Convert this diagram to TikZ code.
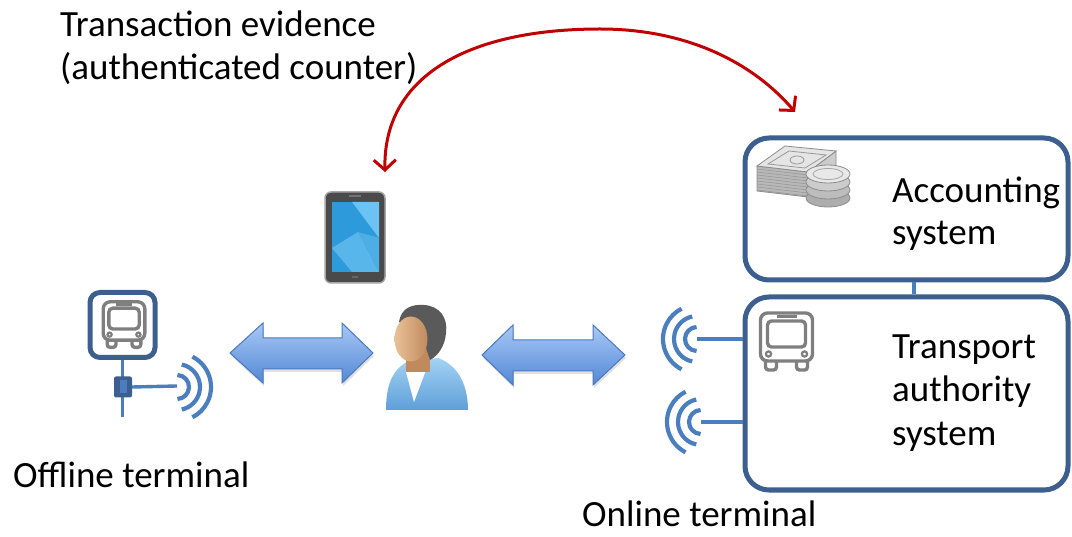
\documentclass[tikz,border=0pt]{standalone}
\usepackage{fontspec}
\setmainfont{Carlito}
\usetikzlibrary{arrows.meta,shapes.geometric}

\definecolor{frameblue}{HTML}{3C5F8F}
\definecolor{lineblue}{HTML}{4A7EBF}
\definecolor{busgray}{HTML}{7F7F7F}
\definecolor{arcred}{HTML}{C00000}
\definecolor{arrowtop}{HTML}{A9C8F5}
\definecolor{arrowbot}{HTML}{5289D6}
\definecolor{arrowedge}{HTML}{4A78C0}
\definecolor{skinlight}{HTML}{EBC198}
\definecolor{skindark}{HTML}{C08A5E}
\definecolor{hairgray}{HTML}{5A5A5A}
\definecolor{shirttop}{HTML}{A3D2F4}
\definecolor{shirtbot}{HTML}{5E9FD8}
\definecolor{screenblue}{HTML}{2C9ADB}
\definecolor{screenlight}{HTML}{6CC2F0}
\definecolor{phonebody}{HTML}{4A4A4A}

\tikzset{
  label/.style={anchor=base west, inner sep=0pt, font=\fontsize{37}{44}\selectfont},
  sysbox/.style={draw=frameblue, line width=5pt, rounded corners=24pt, inner sep=0pt},
  feed/.style={lineblue, line width=3.4pt},
  radio/.style={lineblue, line width=4.2pt},
  dblarrow/.style={draw=arrowedge, line width=1pt, top color=arrowtop, bottom color=arrowbot},
  evidence/.style={arcred, line width=3pt,
    {Straight Barb[length=10pt,width=22pt,line width=3pt]}-{Straight Barb[length=10pt,width=22pt,line width=3pt]}},
  % front view of a bus, drawn as an outline
  bus/.pic={
    \begin{scope}[busgray, line width=3.4pt]
      \draw[rounded corners=7pt] (-26,-29) rectangle (26,19);
      \draw[rounded corners=4pt] (-19,-21) rectangle (19,5);
      \draw[line width=2.6pt] (-10,-25.5) -- (10,-25.5);
      \draw[line width=2.2pt] (-18,12) circle[radius=2.6];
      \draw[line width=2.2pt] (18,12) circle[radius=2.6];
      \draw[rounded corners=3pt] (-21,19) -- (-21,28) -- (-10,28) -- (-10,19);
      \draw[rounded corners=3pt] (10,19) -- (10,28) -- (21,28) -- (21,19);
    \end{scope}
  },
  % radio waves opening to the right (radius / half opening angle)
  wavesright/.pic={
    \foreach \r/\a in {12/88,23/78,34/63}
      \draw[radio] (-\a:\r) arc[start angle=-\a, end angle=\a, radius=\r];
  },
  % radio waves opening to the left
  wavesleft/.pic={
    \foreach \r/\a in {12/88,23/78,34/63}
      \draw[radio] (180-\a:\r) arc[start angle=180-\a, end angle=180+\a, radius=\r];
  },
}

\begin{document}
\begin{tikzpicture}[x=1pt, y=-1pt]
\useasboundingbox (0,0) rectangle (1072,537);

% ---------- labels ----------
\node[label] (t1) at (60,37) {Transaction evidence};
\node[label] (t2) at (60,80) {(authenticated counter)};
\node[label] (offtxt) at (13,487) {Offline terminal};
\node[label] (ontxt) at (582,526) {Online terminal};

% ---------- back-end systems ----------
\node[sysbox, minimum width=323pt, minimum height=142pt] (acc) at (906.5,209) {};
\node[sysbox, minimum width=323pt, minimum height=193pt] (tas) at (906.5,393.5) {};
\coordinate (link) at (914,0);
\draw[feed] (acc.south -| link) -- (tas.north -| link);

\node[label] (acc1) at (892,203) {Accounting};
\node[label] (acc2) at (892,245) {system};
\node[label] (tas1) at (892,359) {Transport};
\node[label] (tas2) at (892,402) {authority};
\node[label] (tas3) at (892,446) {system};

\pic at (786.5,342) {bus};

% money: stack of notes and coins
\begin{scope}[line width=0.8pt, draw=black!45]
  \filldraw[fill=black!28] (757,166) -- (808,172) -- (808,197) -- (757,191) -- cycle;
  \filldraw[fill=black!20] (808,172) -- (836,151) -- (836,175) -- (808,197) -- cycle;
  \foreach \k in {0,3,...,21}
    \draw[black!42, line width=0.5pt] (757,169+\k) -- (808,175+\k);
  \filldraw[fill=black!10] (757,166) -- (785,146) -- (836,151) -- (808,172) -- cycle;
  \draw[black!40] (768,164) -- (789,151) -- (826,155) -- (805,168) -- cycle;
  \draw[black!40] (797,160) ellipse[x radius=7, y radius=4];
  \foreach \y/\s in {198/32,190/26,182/20} {
    \filldraw[fill=black!\s] (828,\y) ellipse[x radius=22, y radius=9];
  }
  \filldraw[fill=black!9] (828,174) ellipse[x radius=22, y radius=9];
  \draw[black!35] (828,174) ellipse[x radius=15, y radius=5.5];
\end{scope}

% ---------- offline terminal ----------
\node[draw=frameblue, line width=5pt, rounded corners=10pt, minimum size=65pt, inner sep=0pt] (off) at (122.5,325) {};
\pic[scale=0.8] at (124,325) {bus};
\coordinate (pole) at (122.5,417);
\draw[feed] (off.south) -- (pole);
\node[fill=frameblue, rounded corners=2pt, minimum width=18pt, minimum height=21pt, inner sep=0pt] (jack) at (123,387) {};
\node[fill=lineblue, minimum width=7pt, minimum height=13pt, inner sep=0pt] (jackin) at (123,387) {};
\coordinate (wL) at (177,386);
\draw[feed] (jack.east) -- (wL);
\pic at (177,387) {wavesright};

% ---------- online terminal antennas ----------
\coordinate (wR1) at (697,339);
\coordinate (wR2) at (701,422);
\draw[feed] (wR1) -- (wR1 -| tas.west);
\draw[feed] (wR2) -- (wR2 -| tas.west);
\pic at (697,339) {wavesleft};
\pic at (701,422) {wavesleft};

% ---------- phone ----------
\node[fill=phonebody, draw=black!35, line width=1.5pt, rounded corners=6pt,
      minimum width=60pt, minimum height=91pt, inner sep=0pt] (phone) at (355,237.5) {};
\fill[screenblue] (332,202) rectangle (379,272);
\fill[screenlight] (352,202) -- (379,202) -- (379,238) -- cycle;
\fill[screenlight!70!screenblue] (332,248) -- (358,232) -- (379,272) -- (352,272) -- cycle;
\fill[screenlight!50!screenblue] (358,232) -- (379,238) -- (379,272) -- cycle;
\fill[black!55] (349,195.5) rectangle (361,197.5);
\fill[black!60] (352,276) rectangle (358,278);

% ---------- user ----------
\path[top color=shirttop, bottom color=shirtbot]
  (386,410) .. controls (386,386) and (392,370) .. (407,362) -- (438,358)
  .. controls (460,366) and (468,388) .. (468,410) -- cycle;
\fill[white] (406,372) -- (426,370) -- (414,402) -- cycle;
\fill[skindark] (406,348) rectangle (430,372);
\fill[hairgray] (399,322) .. controls (401,308) and (412,304) .. (424,305)
  .. controls (440,306) and (448,318) .. (446,333)
  .. controls (445,346) and (438,356) .. (430,360) -- (420,330) -- cycle;
\node[ellipse, left color=skinlight, right color=skindark, minimum width=33pt,
      minimum height=45pt, inner sep=0pt] (face) at (411,339) {};

% ---------- data exchange ----------
\fill[black, opacity=0.12] (231,356) -- (264,326) -- (264,341) -- (343,341) -- (343,326)
  -- (374,356) -- (343,386) -- (343,372) -- (264,372) -- (264,386) -- cycle;
\path[dblarrow] (230,353) -- (263,323) -- (263,338) -- (342,338) -- (342,323)
  -- (373,353) -- (342,383) -- (342,369) -- (263,369) -- (263,383) -- cycle;
\fill[black, opacity=0.12] (483,358) -- (514,328) -- (514,343) -- (594,343) -- (594,328)
  -- (626,358) -- (594,388) -- (594,374) -- (514,374) -- (514,388) -- cycle;
\path[dblarrow] (482,355) -- (513,325) -- (513,340) -- (593,340) -- (593,325)
  -- (625,355) -- (593,385) -- (593,371) -- (513,371) -- (513,385) -- cycle;

% ---------- evidence flow ----------
\coordinate (evL) at (385,172);
\coordinate (evTop) at (600,29);
\coordinate (evR) at (795,112);
\draw[evidence] (evL) .. controls (383,75) and (470,29) .. (evTop)
  .. controls (690,29) and (755,65) .. (evR);
\end{tikzpicture}
\end{document}
